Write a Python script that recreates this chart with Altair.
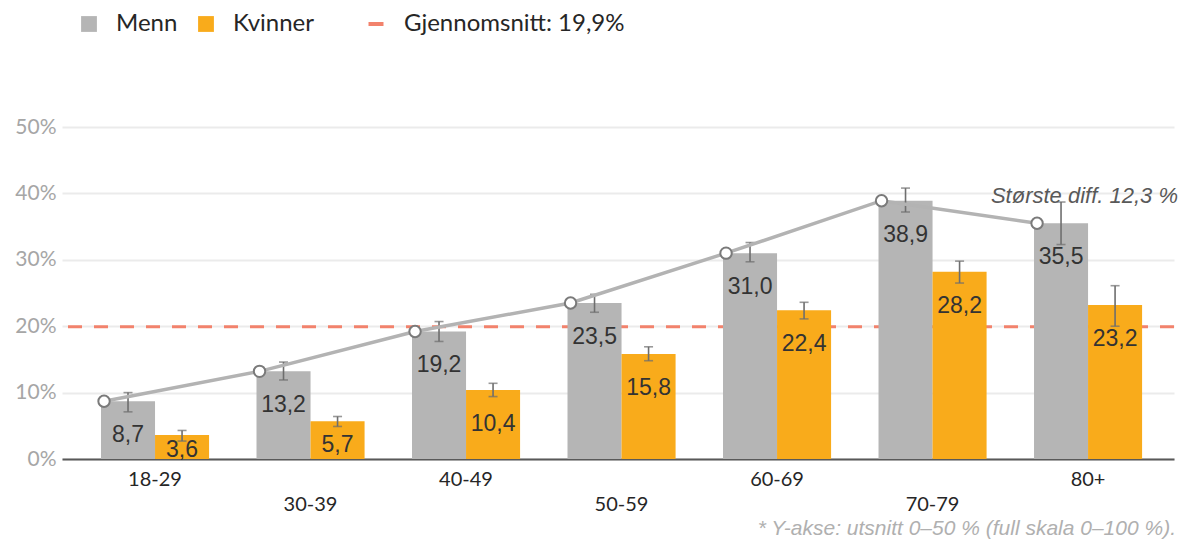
import altair as alt
import pandas as pd

ages = ["18-29", "30-39", "40-49", "50-59", "60-69", "70-79", "80+"]
menn = [8.7, 13.2, 19.2, 23.5, 31.0, 38.9, 35.5]
menn_lo = [7.1, 11.9, 17.7, 22.1, 29.7, 37.2, 32.3]
menn_hi = [10.0, 14.6, 20.7, 24.8, 32.6, 40.8, 38.7]
kvinner = [3.6, 5.7, 10.4, 15.8, 22.4, 28.2, 23.2]
kvinner_lo = [2.7, 4.9, 9.4, 14.8, 21.1, 26.5, 20.0]
kvinner_hi = [4.3, 6.4, 11.4, 16.9, 23.6, 29.8, 26.1]
sexes = ["Menn", "Kvinner"]
bar_colors = ["#B5B5B5", "#F9AB1B"]
avg_value = [19.9]
avg_label = ["Gjennomsnitt: 19,9%"]
annotation = ["Største diff. 12,3 %"]
footnote = ["* Y-akse: utsnitt 0–50 % (full skala 0–100 %)."]
y_ticks = [0, 10, 20, 30, 40, 50]

rows = []
for i, a in enumerate(ages):
    rows.append({"age": a, "sex": "Menn", "value": menn[i], "lo": menn_lo[i], "hi": menn_hi[i]})
    rows.append({"age": a, "sex": "Kvinner", "value": kvinner[i], "lo": kvinner_lo[i], "hi": kvinner_hi[i]})
df = pd.DataFrame(rows)
df_avg = pd.DataFrame({"label": avg_label, "v": avg_value})
df_ann = pd.DataFrame({"t": annotation})
df_foot = pd.DataFrame({"t": footnote})

lower_ages = [a for i, a in enumerate(ages) if i % 2 == 1]
lower_js = "[" + ",".join("'%s'" % a for a in lower_ages) + "]"

W, H = 1112, 332

x_enc = alt.X(
    "age:N", sort=ages,
    scale=alt.Scale(paddingInner=0.305, paddingOuter=0.228, align=0.55),
    axis=alt.Axis(
        title=None, labelAngle=0, ticks=False, domainColor="#595959", domainWidth=2,
        labelFont="Lato", labelFontSize=20, labelColor="#262626", labelPadding=10,
        labelLineHeight=25, labelBaseline="top",
        labelExpr="indexof(%s, datum.value) >= 0 ? ['', datum.value] : datum.value" % lower_js,
    ),
)
xo_enc = alt.XOffset("sex:N", sort=sexes, scale=alt.Scale(paddingInner=0, paddingOuter=0))
y_scale = alt.Scale(domain=[0, 50], nice=False)

base = alt.Chart(df)

bars = base.mark_bar().encode(
    x=x_enc, xOffset=xo_enc,
    y=alt.Y("value:Q", scale=y_scale, axis=alt.Axis(
        title=None, values=y_ticks, labelExpr="datum.value + '%'", domain=False, ticks=False,
        gridColor="#ebebeb", gridWidth=2, labelFont="Lato", labelFontSize=21,
        labelColor="#a6a6a6", labelPadding=6)),
    fill=alt.Fill("sex:N", sort=sexes, scale=alt.Scale(domain=sexes, range=bar_colors),
                  legend=alt.Legend(orient="none", legendX=15, legendY=-115, direction="horizontal",
                                    title=None, symbolType="square", symbolSize=250,
                                    symbolStrokeWidth=0, labelFont="Lato", labelFontSize=24,
                                    labelColor="#262626", labelOffset=15, columnPadding=16,
                                    padding=0, labelLimit=300)),
)

err = base.mark_rule(color="#6e6e6e", strokeWidth=1.6).encode(
    x=x_enc, xOffset=xo_enc, y=alt.Y("lo:Q", title=None), y2="hi:Q")
cap_hi = base.mark_tick(color="#6e6e6e", thickness=1.6, size=9).encode(
    x=x_enc, xOffset=xo_enc, y=alt.Y("hi:Q", title=None))
cap_lo = base.mark_tick(color="#6e6e6e", thickness=1.6, size=9).encode(
    x=x_enc, xOffset=xo_enc, y=alt.Y("lo:Q", title=None))

labels = base.transform_calculate(
    ly="max(datum.value - 5.1, datum.value * 0.38)",
    txt="replace(format(datum.value, '.1f'), '.', ',')",
).mark_text(font="Liberation Sans", fontSize=23, color="#333333", baseline="middle").encode(
    x=x_enc, xOffset=xo_enc, y=alt.Y("ly:Q", title=None), text="txt:N")

menn_base = base.transform_filter("datum.sex == 'Menn'")
line = menn_base.mark_line(color="#b3b3b3", strokeWidth=3.5, xOffset=-51).encode(
    x=x_enc, y=alt.Y("value:Q", title=None))
pts = menn_base.mark_point(shape="circle", fill="white", fillOpacity=1, stroke="#7a7a7a",
                           strokeWidth=2, size=130, opacity=1, xOffset=-51).encode(
    x=x_enc, y=alt.Y("value:Q", title=None))

avg = alt.Chart(df_avg).mark_rule(strokeWidth=3, strokeDash=[14, 12]).encode(
    y=alt.Y("v:Q", title=None),
    stroke=alt.Stroke("label:N", scale=alt.Scale(range=["#F2826C"]),
                      legend=alt.Legend(orient="none", legendX=302, legendY=-115, title=None,
                                        symbolType="stroke", symbolStrokeWidth=4, symbolSize=225,
                                        symbolDash=[1, 0], labelFont="Lato", labelFontSize=24,
                                        labelColor="#262626", labelOffset=16, padding=0,
                                        labelLimit=400)),
)

ann = alt.Chart(df_ann).mark_text(align="right", baseline="middle", font="Liberation Sans",
                                  fontStyle="italic", fontSize=22, color="#595959").encode(
    x=alt.value(W + 4), y=alt.value(69), text="t:N")
foot = alt.Chart(df_foot).mark_text(align="right", baseline="alphabetic", font="Liberation Sans",
                                    fontStyle="italic", fontSize=21, color="#b0b0b0").encode(
    x=alt.value(W + 2), y=alt.value(408), text="t:N")

chart = alt.layer(avg, bars, err, cap_hi, cap_lo, labels, line, pts, ann, foot).resolve_scale(
    fill="independent", stroke="independent"
).properties(
    width=W, height=H, autosize="none",
    padding={"left": 54, "top": 119, "right": 4, "bottom": 81},
).configure_view(stroke=None)

chart.save("out.html", embed_options={"renderer": "svg", "actions": False})
